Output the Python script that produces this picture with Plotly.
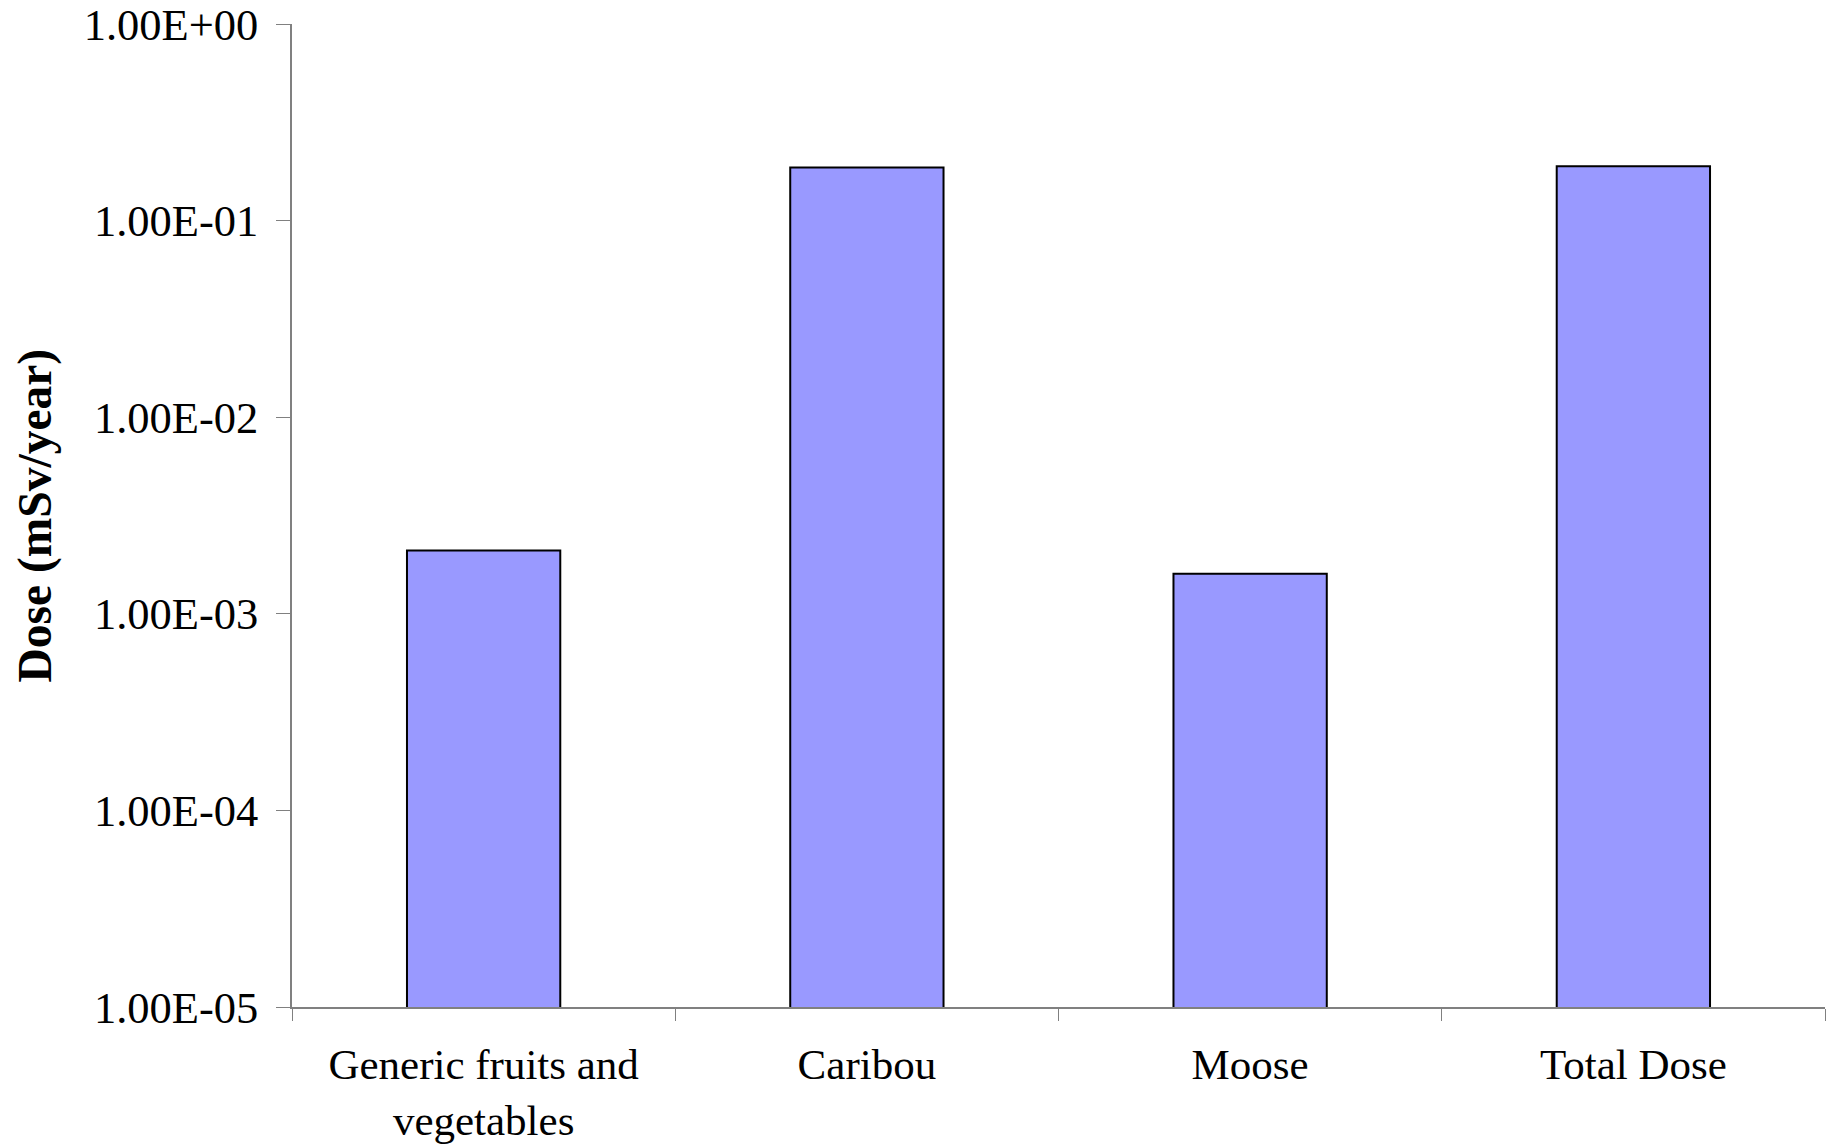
import plotly.graph_objects as go

categories = ["Generic fruits and<br>vegetables", "Caribou", "Moose", "Total Dose"]
dose = [2.1e-3, 1.86e-1, 1.6e-3, 1.89e-1]
tick_vals = [1e-5, 1e-4, 1e-3, 1e-2, 1e-1, 1e0]
tick_text = ["1.00E-05", "1.00E-04", "1.00E-03", "1.00E-02", "1.00E-01", "1.00E+00"]
y_title = "<b>Dose (mSv/year)</b>"

fig = go.Figure()
fig.add_trace(go.Bar(
    x=categories, y=dose, width=0.4,
    marker=dict(color="#9999FF", line=dict(color="black", width=2)),
))

font_family = "Liberation Serif, Times New Roman, serif"
fig.update_layout(
    width=1829, height=1146,
    margin=dict(l=292, r=4, t=24, b=139),
    plot_bgcolor="white", paper_bgcolor="white",
    showlegend=False,
    font=dict(family=font_family, color="black", size=44),
)
fig.update_xaxes(
    type="category", showline=True, linecolor="#808080", linewidth=1.5,
    ticks="outside", tickson="boundaries", ticklen=12, tickcolor="#808080",
    tickfont=dict(size=43, family=font_family, color="black"),
    ticklabelstandoff=19, showgrid=False, zeroline=False, automargin=False,
)
fig.update_yaxes(
    type="log", range=[-5, 0], showline=True, linecolor="#808080", linewidth=1.5,
    ticks="outside", ticklen=14, tickcolor="#808080",
    tickvals=tick_vals, ticktext=tick_text, ticklabeloverflow="allow",
    tickfont=dict(size=44.5, family=font_family, color="black"),
    ticklabelstandoff=9, showgrid=False, zeroline=False, automargin=False,
)
fig.add_annotation(
    text=y_title, xref="paper", yref="paper", x=-0.1676, y=0.5,
    xanchor="center", yanchor="middle", textangle=-90, showarrow=False,
    font=dict(size=47.5, family=font_family, color="black"),
)

fig.write_html(
    "out.html",
    config={"displayModeBar": False},
    post_script="document.body.style.margin='0';document.body.style.overflow='hidden';",
)
